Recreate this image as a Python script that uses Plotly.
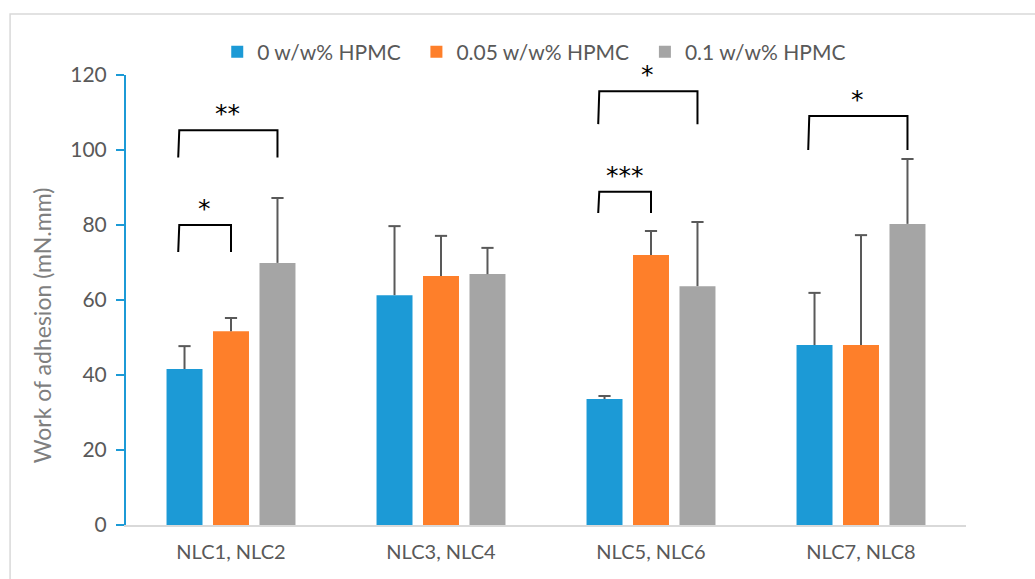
import plotly.graph_objects as go

# Formulation pairs and HPMC concentrations
categories = ["NLC1, NLC2", "NLC3, NLC4", "NLC5, NLC6", "NLC7, NLC8"]
series_names = ["0 w/w% HPMC", "0.05 w/w% HPMC", "0.1 w/w% HPMC"]

# Mean work of adhesion (mN.mm) per concentration
hpmc_0 = [41.6, 61.3, 33.6, 48.0]
hpmc_005 = [51.7, 66.4, 72.0, 48.0]
hpmc_01 = [69.9, 66.9, 63.7, 80.3]

# Standard deviations (upper error bars only)
sd_0 = [6.1, 18.4, 0.8, 13.9]
sd_005 = [3.5, 10.7, 6.4, 29.3]
sd_01 = [17.3, 7.0, 17.1, 17.3]

# Significance brackets: (group, first series, second series, top, leg bottom, label)
brackets = [
    (0, 0, 1, 80.0, 72.8, "*"),
    (0, 0, 2, 105.3, 98.0, "**"),
    (2, 0, 1, 88.9, 83.2, "***"),
    (2, 0, 2, 115.7, 106.9, "*"),
    (3, 0, 2, 109.1, 100.0, "*"),
]

colors = ["#1c9ad6", "#fe7f2a", "#a5a5a5"]
means = [hpmc_0, hpmc_005, hpmc_01]
sds = [sd_0, sd_005, sd_01]

BARGAP = 0.336
BARGROUPGAP = 0.226
slot = (1 - BARGAP) / 3          # width of one bar slot in axis units
cap_half = 0.029                 # half width of error bar caps
PAD = "\u00a0\u00a0"             # extra spacing after legend entries

xs = list(range(len(categories)))
fig = go.Figure()

for k, (name, col, m) in enumerate(zip(series_names, colors, means)):
    label = name + (PAD if k < len(series_names) - 1 else "")
    fig.add_trace(go.Bar(x=xs, y=m, name=label, marker=dict(color=col, line=dict(width=0))))

# Upper-only error bars drawn as line segments at each bar centre
for j, (m, s) in enumerate(zip(means, sds)):
    ex, ey = [], []
    for i in xs:
        xc = i + (j - 1) * slot
        top = m[i] + s[i]
        ex += [xc, xc, None, xc - cap_half, xc + cap_half, None]
        ey += [m[i], top, None, top, top, None]
    fig.add_trace(go.Scatter(x=ex, y=ey, mode="lines", showlegend=False, hoverinfo="skip",
                             line=dict(color="#595959", width=2)))

# Significance brackets with star labels
for g, a, b, top, bottom, label in brackets:
    xa = g + (a - 1) * slot - 0.03
    xb = g + (b - 1) * slot
    fig.add_trace(go.Scatter(x=[xa, xa + 0.005, xb, xb], y=[bottom, top, top, bottom], mode="lines",
                             showlegend=False, hoverinfo="skip",
                             line=dict(color="#000000", width=2)))
    fig.add_annotation(x=(xa + xb) / 2, y=top, text=label, showarrow=False,
                       yanchor="bottom", yshift=0,
                       font=dict(family="DejaVu Sans", size=25, color="#000000"))

# Y axis title, placed as rotated text
fig.add_annotation(xref="paper", yref="paper", x=-0.1, y=0.444, text="Work of adhesion (mN.mm)",
                   textangle=-90, showarrow=False, xanchor="center", yanchor="middle",
                   font=dict(family="Lato", size=23, color="#7f7f7f"))

# Outer chart frame
fig.add_shape(type="rect", xref="paper", yref="paper", x0=-0.138, x1=1.2, y0=-0.3, y1=1.1356,
              line=dict(color="#d9d9d9", width=1.5), fillcolor="rgba(0,0,0,0)", layer="below")

fig.update_layout(
    width=1035, height=579,
    margin=dict(l=126, r=69, t=75, b=54),
    paper_bgcolor="#ffffff", plot_bgcolor="#ffffff",
    barmode="group", bargap=BARGAP, bargroupgap=BARGROUPGAP,
    font=dict(family="Lato", color="#595959"),
    legend=dict(orientation="h", x=0.486, xanchor="center", y=1.051, yanchor="middle",
                font=dict(size=21, color="#595959"), traceorder="normal",
                itemclick=False),
    xaxis=dict(range=[-0.5, 3.5], tickvals=xs, ticktext=categories, showgrid=False,
               zeroline=False, showline=True, linecolor="#d9d9d9", linewidth=2,
               ticks="", ticklabelstandoff=8, tickfont=dict(size=20, color="#595959")),
    yaxis=dict(range=[0, 120], dtick=20, showgrid=False, zeroline=False,
               showline=True, linecolor="#1c9ad6", linewidth=2,
               ticks="outside", ticklen=8, tickcolor="#1c9ad6", tickwidth=2,
               ticklabelstandoff=5, tickfont=dict(size=21, color="#595959")),
)

fig.write_html("out.html")
